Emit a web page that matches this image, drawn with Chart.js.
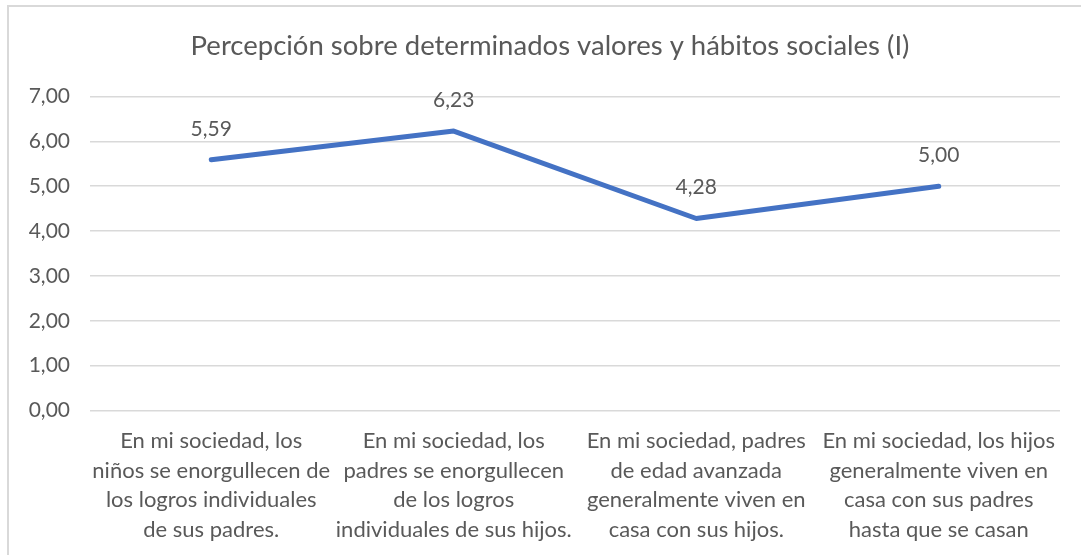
<!DOCTYPE html>
<html>
<head>
<meta charset="utf-8">
<script src="https://cdn.jsdelivr.net/npm/chart.js@4"></script>
<style>
  html, body { margin: 0; padding: 0; background: #ffffff; }
  #wrap { position: relative; width: 1081px; height: 555px; overflow: hidden; }
  canvas { display: block; }
</style>
</head>
<body>
<div id="wrap"><canvas id="c" width="1081" height="555"></canvas></div>
<script>
const chartTitle = 'Percepción sobre determinados valores y hábitos sociales (I)';
const categories = [
  ['En mi sociedad, los', 'niños se enorgullecen de', 'los logros individuales', 'de sus padres.'],
  ['En mi sociedad, los', 'padres se enorgullecen', 'de los logros', 'individuales de sus hijos.'],
  ['En mi sociedad, padres', 'de edad avanzada', 'generalmente viven en', 'casa con sus hijos.'],
  ['En mi sociedad, los hijos', 'generalmente viven en', 'casa con sus padres', 'hasta que se casan']
];
const values = [5.59, 6.23, 4.28, 5.00];
const yTicks = [0, 1, 2, 3, 4, 5, 6, 7];

const FONT = 'Lato, "Open Sans", sans-serif';
const TEXT = '#595959';
const fmt = v => v.toFixed(2).replace('.', ',');

const frame = {
  id: 'frame',
  beforeDraw(chart) {
    const ctx = chart.ctx;
    ctx.save();
    ctx.fillStyle = '#d9d9d9';
    ctx.fillRect(7, 5, 1081, 2);
    ctx.fillRect(7, 5, 2, 555);
    ctx.restore();
  }
};

const titleDraw = {
  id: 'titleDraw',
  afterDraw(chart) {
    const ctx = chart.ctx;
    ctx.save();
    ctx.font = '27.5px ' + FONT;
    ctx.fillStyle = TEXT;
    ctx.textAlign = 'center';
    ctx.textBaseline = 'middle';
    ctx.fillText(chartTitle, 550, 46);
    ctx.restore();
  }
};

const dataLabels = {
  id: 'dataLabels',
  afterDatasetsDraw(chart) {
    const ctx = chart.ctx;
    const meta = chart.getDatasetMeta(0);
    ctx.save();
    ctx.font = '21px ' + FONT;
    ctx.fillStyle = TEXT;
    ctx.textAlign = 'center';
    ctx.textBaseline = 'middle';
    meta.data.forEach((pt, i) => {
      ctx.fillText(fmt(values[i]), pt.x, pt.y - 31);
    });
    ctx.restore();
  }
};

new Chart(document.getElementById('c'), {
  type: 'line',
  data: {
    labels: categories,
    datasets: [{
      data: values,
      borderColor: '#4472C4',
      backgroundColor: '#4472C4',
      borderWidth: 5,
      pointRadius: 0,
      pointHoverRadius: 0,
      tension: 0,
      borderCapStyle: 'round',
      borderJoinStyle: 'round',
      clip: false
    }]
  },
  options: {
    responsive: false,
    animation: false,
    events: [],
    layout: { padding: { left: 10, right: 21, top: 96.5, bottom: 0 } },
    plugins: {
      legend: { display: false },
      tooltip: { enabled: false },
      title: { display: false }
    },
    scales: {
      x: {
        offset: true,
        grid: { display: false, drawTicks: false },
        border: { display: false },
        ticks: {
          autoSkip: false,
          maxRotation: 0,
          minRotation: 0,
          padding: 16,
          color: TEXT,
          font: { family: FONT, size: 22, lineHeight: '29.5px' }
        },
        afterFit(s) { s.height = 144.5; }
      },
      y: {
        min: 0,
        max: 7,
        afterBuildTicks(s) { s.ticks = yTicks.map(v => ({ value: v })); },
        grid: { color: '#d9d9d9', lineWidth: 1.5, drawTicks: false },
        border: { display: false },
        ticks: {
          padding: 20,
          color: TEXT,
          font: { family: FONT, size: 21 },
          callback: v => fmt(v)
        },
        afterFit(s) { s.width = 80; }
      }
    }
  },
  plugins: [frame, titleDraw, dataLabels]
});
</script>
</body>
</html>
